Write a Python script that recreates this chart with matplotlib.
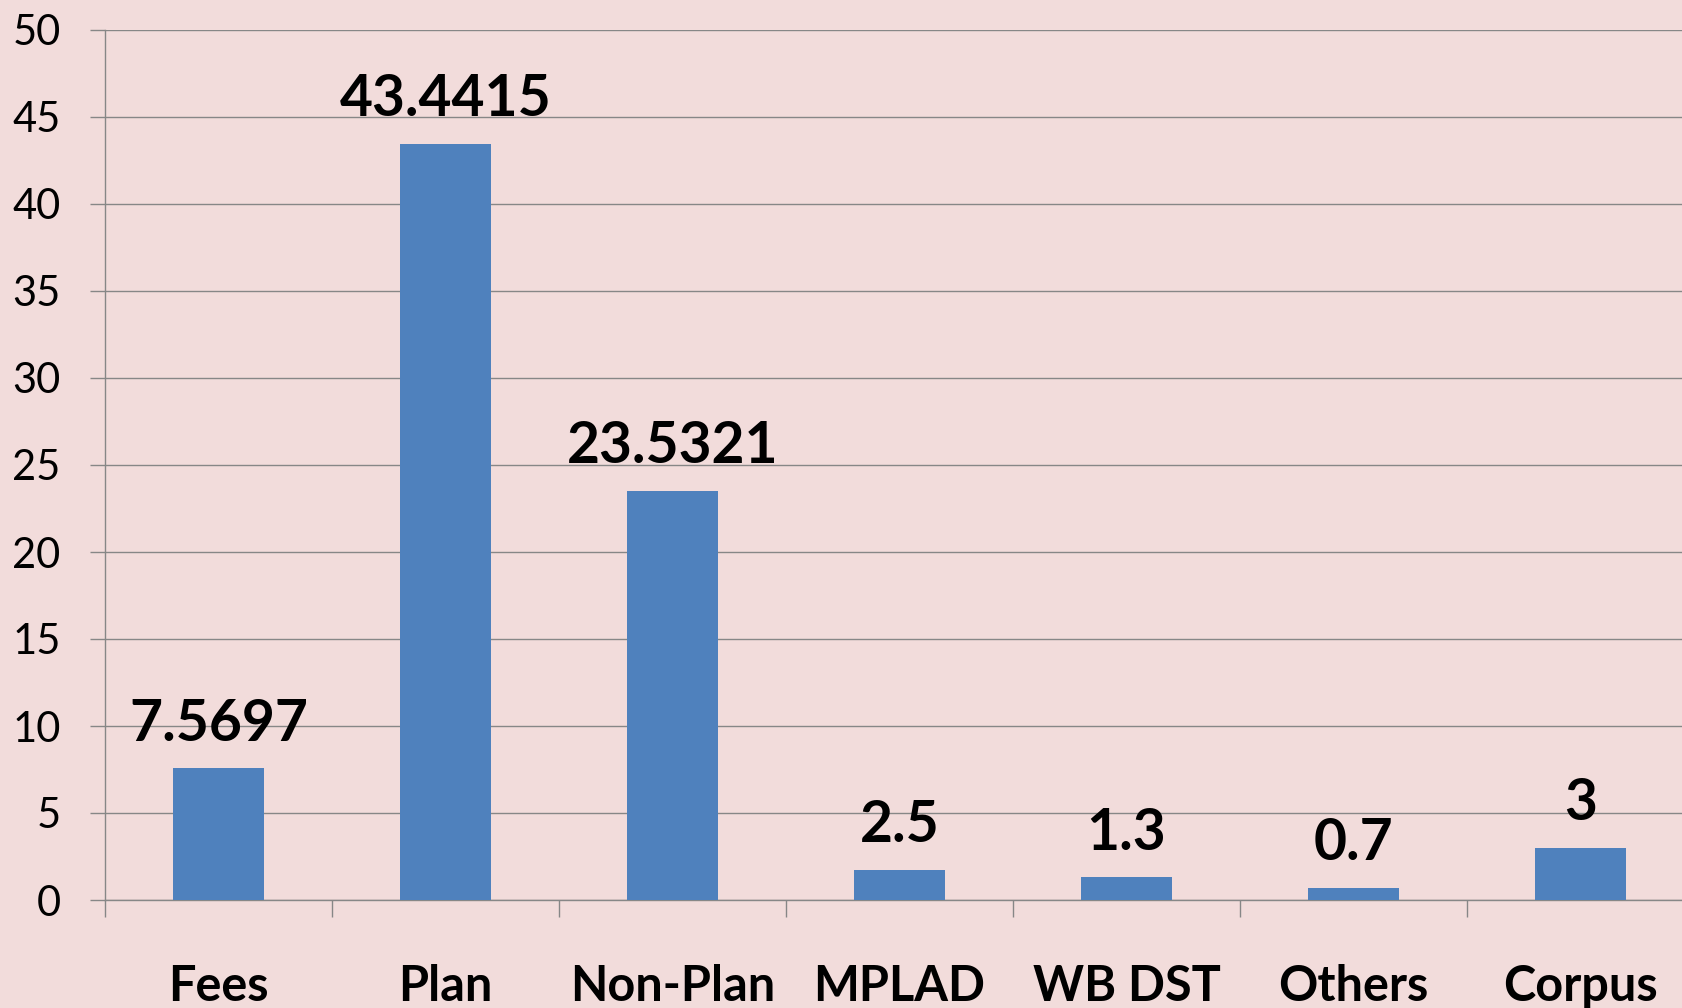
import numpy as np
import matplotlib.pyplot as plt

categories = ['Fees', 'Plan', 'Non-Plan', 'MPLAD', 'WB DST', 'Others', 'Corpus']
values = [7.5697, 43.4415, 23.5321, 1.75, 1.3, 0.7, 3.0]
value_labels = ['7.5697', '43.4415', '23.5321', '2.5', '1.3', '0.7', '3']
y_ticks = [0, 5, 10, 15, 20, 25, 30, 35, 40, 45, 50]

plt.rcParams['font.family'] = ['Lato', 'DejaVu Sans']
bg = '#F2DCDB'
grid_c = '#878787'

fig = plt.figure(figsize=(16.83, 10.08), dpi=100, facecolor=bg)
ax = fig.add_axes([105 / 1683, 108 / 1008, 1589 / 1683, 870 / 1008])
ax.set_facecolor(bg)

x = np.arange(len(categories))
ax.bar(x, values, width=0.4, color='#4F81BD', zorder=3)
for xi, v, lab in zip(x, values, value_labels):
    ax.annotate(lab, (xi, v), xytext=(0, 20), textcoords='offset points',
                ha='center', va='baseline', fontsize=41, fontweight='bold', color='black')

ax.set_xlim(-0.5, len(categories) - 0.5)
ax.set_ylim(0, 50)
ax.set_yticks(y_ticks)
ax.yaxis.grid(True, color=grid_c, linewidth=1.0, zorder=0)
ax.tick_params(axis='y', length=11, width=1.0, color=grid_c, pad=21, labelsize=30)

ax.set_xticks(np.arange(len(categories) + 1) - 0.5)
ax.set_xticklabels([])
ax.tick_params(axis='x', which='major', length=12, width=1.0, color=grid_c)
ax.set_xticks(x, minor=True)
ax.set_xticklabels(categories, minor=True, fontsize=35, fontweight='bold')
ax.tick_params(axis='x', which='minor', length=0, pad=46)

for s in ['top', 'right']:
    ax.spines[s].set_visible(False)
for s in ['left', 'bottom']:
    ax.spines[s].set_color(grid_c)
    ax.spines[s].set_linewidth(1.0)

fig.savefig('out.png', dpi=100, facecolor=bg)
